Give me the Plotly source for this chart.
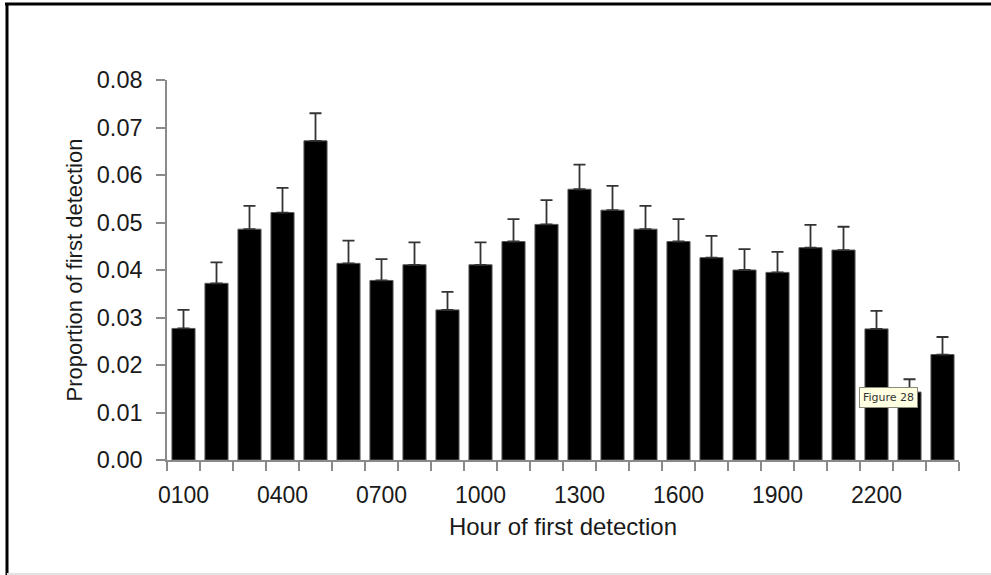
import plotly.graph_objects as go

hours = ["0100", "0200", "0300", "0400", "0500", "0600", "0700", "0800",
         "0900", "1000", "1100", "1200", "1300", "1400", "1500", "1600",
         "1700", "1800", "1900", "2000", "2100", "2200", "2300", "2400"]
proportion = [0.0277, 0.0372, 0.0486, 0.0521, 0.0672, 0.0414, 0.0378, 0.0411,
              0.0316, 0.0411, 0.0460, 0.0496, 0.0570, 0.0526, 0.0486, 0.0460,
              0.0426, 0.0400, 0.0395, 0.0447, 0.0442, 0.0276, 0.0143, 0.0222]
std_error = [0.0039, 0.0044, 0.0049, 0.0052, 0.0058, 0.0048, 0.0045, 0.0047,
             0.0038, 0.0047, 0.0047, 0.0051, 0.0052, 0.0051, 0.0049, 0.0047,
             0.0046, 0.0044, 0.0043, 0.0048, 0.0049, 0.0038, 0.0027, 0.0037]
shown_labels = ["0100", "0400", "0700", "1000", "1300", "1600", "1900", "2200"]
y_ticks = [0.00, 0.01, 0.02, 0.03, 0.04, 0.05, 0.06, 0.07, 0.08]

FONT = "Liberation Sans, Arial, sans-serif"
AX = "#8a8a8a"

fig = go.Figure()
fig.add_trace(go.Bar(
    x=hours, y=proportion,
    marker=dict(color="#000000", line=dict(color="#5a5a5a", width=1)),
    error_y=dict(type="data", array=std_error, arrayminus=[0] * len(std_error),
                 symmetric=False, color="#333333", thickness=1.8, width=6),
    showlegend=False,
))

# plot-area pixel geometry: x 167..959, y 80..460
L, R, T, B = 167, 959, 80, 460
def px(x):
    return (x - L) / (R - L)
def py(y):
    return (B - y) / (B - T)

fig.update_layout(
    width=991, height=575,
    margin=dict(l=L, r=991 - R, t=T, b=575 - B),
    paper_bgcolor="white", plot_bgcolor="white",
    bargap=0.3,
    font=dict(family=FONT, color="#1a1a1a", size=23),
    xaxis=dict(
        type="category", tickson="boundaries",
        tickvals=hours,
        ticktext=[h if h in shown_labels else "" for h in hours],
        tickangle=0,
        ticks="outside", ticklen=9, tickcolor=AX, tickwidth=1.5,
        showline=True, linecolor=AX, linewidth=1.5,
        showgrid=False, zeroline=False,
        tickfont=dict(size=23),
        ticklabelstandoff=14,
        title=dict(text="Hour of first detection", font=dict(size=24), standoff=11),
    ),
    yaxis=dict(
        range=[0, 0.08], tickvals=y_ticks, tickformat=".2f",
        ticks="outside", ticklen=9, tickcolor=AX, tickwidth=1.5,
        showline=True, linecolor=AX, linewidth=1.5,
        showgrid=False, zeroline=False,
        tickfont=dict(size=23.5),
        ticklabelstandoff=9,
        title=dict(text="Proportion of first detection", font=dict(size=22), standoff=8),
    ),
    shapes=[
        dict(type="line", xref="paper", yref="paper", x0=px(5), x1=px(991),
             y0=py(4), y1=py(4), line=dict(color="black", width=3)),
        dict(type="line", xref="paper", yref="paper", x0=px(7), x1=px(7),
             y0=py(3), y1=py(575), line=dict(color="black", width=3)),
        dict(type="line", xref="paper", yref="paper", x0=px(7), x1=px(991),
             y0=py(574), y1=py(574), line=dict(color="#e2e2e2", width=2)),
    ],
    annotations=[
        dict(text="Figure 28", xref="paper", yref="paper", x=px(888), y=py(397),
             xanchor="center", yanchor="middle",
             showarrow=False, bgcolor="#ffffe1", bordercolor="#8a8a7a",
             borderwidth=1, borderpad=3,
             font=dict(family="DejaVu Sans, sans-serif", size=11, color="#333")),
    ],
)

fig.write_html("out.html")
